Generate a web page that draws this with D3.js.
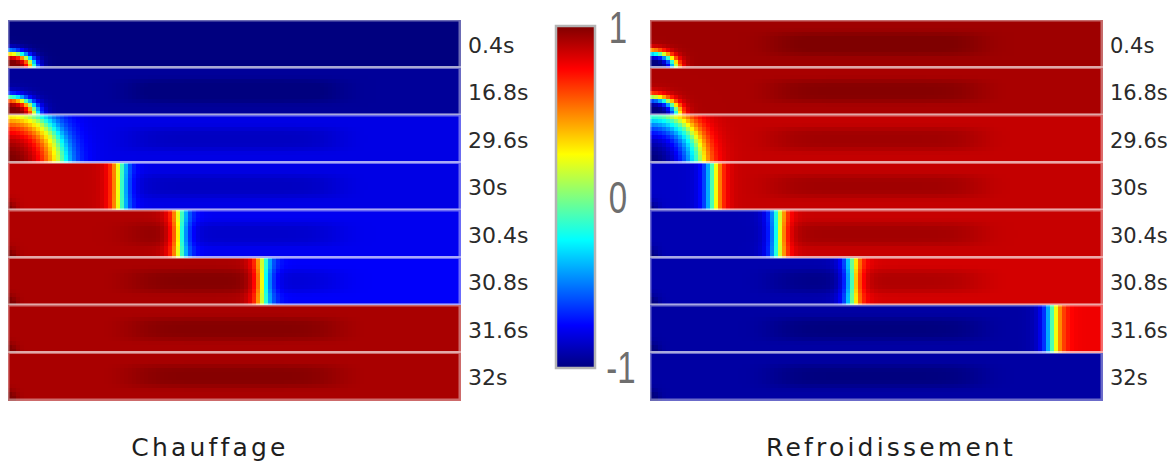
<!DOCTYPE html>
<html>
<head>
<meta charset="utf-8">
<script src="https://cdn.jsdelivr.net/npm/d3@7"></script>
<style>
  body { margin: 0; background: #fff; }
  svg { display: block; }
</style>
</head>
<body>
<div id="chart"></div>
<script>
'use strict';

// snapshot times, one strip each
const times = ['0.4s', '16.8s', '29.6s', '30s', '30.4s', '30.8s', '31.6s', '32s'];

// Chauffage: value behind the front / inside the hot spot, value ahead of it
const heatBehind = [1.05, 1.05, 1.05, 0.875, 0.905, 0.917, 0.917, 0.917];
const heatAhead  = [-1.0, -0.95, -0.8, -0.8, -0.78, -0.76, null, null];
const heatFront  = [null, null, null, 0.248, 0.38, 0.564, null, null];   // along strip, 0..1
const heatSpotX  = [0.055, 0.06, 0.112, null, null, null, null, null];   // spot radius along strip
const heatSpotY  = [0.32, 0.36, 1.05, null, null, null, null, null];     // spot radius across strip

// Refroidissement
const coolBehind = [-1.05, -1.05, -1.05, -0.86, -0.9, -0.91, -0.93, -0.93];
const coolAhead  = [0.94, 0.917, 0.865, 0.865, 0.86, 0.835, 0.78, null];
const coolFront  = [null, null, null, 0.14, 0.283, 0.447, 0.89, null];
const coolSpotX  = [0.055, 0.06, 0.105, null, null, null, null, null];
const coolSpotY  = [0.32, 0.36, 1.0, null, null, null, null, null];

const panelTitles = ['Chauffage', 'Refroidissement'];
const barTicks = [1, 0, -1];

const width = 1173, height = 465;
const stripW = 452, stripH = 47.5, stripTop = 20;
const cell = 4;
const nx = Math.round(stripW / cell), ny = 12;

const jet = d3.scaleLinear()
  .domain([-1, -0.75, -0.25, 0.25, 0.75, 1])
  .range(['#00007f', '#0000ff', '#00ffff', '#ffff00', '#ff0000', '#7f0000'])
  .clamp(true);

const svg = d3.select('#chart').append('svg')
  .attr('width', width)
  .attr('height', height);

const panels = [
  { title: panelTitles[0], x0: 8, behind: heatBehind, ahead: heatAhead, front: heatFront,
    spotX: heatSpotX, spotY: heatSpotY, labelSize: 22, titleX: 210 },
  { title: panelTitles[1], x0: 650, behind: coolBehind, ahead: coolAhead, front: coolFront,
    spotX: coolSpotX, spotY: coolSpotY, labelSize: 21, titleX: 891 }
];

const along = d3.scaleLinear().domain([0, 1]).range([0, stripW]);
const across = d3.scaleLinear().domain([0, 1]).range([0, stripH]);
const rowY = d3.scaleBand().domain(times).range([stripTop, stripTop + stripH * times.length]);

const sigmoid = t => 1 / (1 + Math.exp(-t));

function push (val, amount) {
  // darken towards the nearest extreme
  return Math.sign(val) * Math.min(1.05, Math.abs(val) + amount);
}

function fieldValue (p, i, u, v) {
  var val;
  if (p.front[i] != null) {
    val = p.behind[i] + (p.ahead[i] - p.behind[i]) * sigmoid((u - along(p.front[i])) / 5);
  } else if (p.spotX[i] != null) {
    var rx = along(p.spotX[i]), ry = across(p.spotY[i]);
    var s = Math.sqrt(rx * ry);
    var d = (Math.hypot(u / rx, v / ry) - 1) * s;
    var soft = s > 30 ? (d < 0 ? 0.24 * s : 0.17 * s) : 0.15 * s;
    val = p.behind[i] + (p.ahead[i] - p.behind[i]) * sigmoid(d / soft);
  } else {
    val = p.behind[i];
  }
  // darker elongated core in the middle of the strip
  var bx = (u - along(0.5)) / along(0.235), by = (v - stripH / 2) / (stripH * 0.24);
  val = push(val, 0.07 * Math.exp(-(Math.pow(bx, 6) + Math.pow(by, 4))));
  // dark spot in the lower left corner
  if (p.spotX[i] == null) {
    val = push(val, 0.13 * Math.exp(-(u * u + v * v) / 80));
  }
  return val;
}

panels.forEach(p => {
  var g = svg.append('g').attr('transform', `translate(${p.x0},0)`);

  var strips = g.selectAll('g.strip')
    .data(times)
    .join('g')
      .attr('class', 'strip')
      .attr('transform', t => `translate(0,${rowY(t)})`);

  strips.each(function (t, i) {
    var cells = [];
    for (var a = 0; a < nx; a++) {
      for (var b = 0; b < ny; b++) {
        var u = (a + 0.5) * stripW / nx;
        var v = stripH - (b + 0.5) * stripH / ny;
        cells.push({ a: a, b: b, val: fieldValue(p, i, u, v) });
      }
    }
    d3.select(this).selectAll('rect.cell')
      .data(cells)
      .join('rect')
        .attr('class', 'cell')
        .attr('x', c => along(c.a / nx))
        .attr('y', c => across(c.b / ny))
        .attr('width', stripW / nx + 0.6)
        .attr('height', stripH / ny + 0.6)
        .attr('shape-rendering', 'crispEdges')
        .attr('fill', c => jet(c.val));
  });

  strips.append('rect')
    .attr('width', stripW)
    .attr('height', stripH)
    .attr('fill', 'none')
    .attr('stroke', '#fff')
    .attr('stroke-opacity', 0.42)
    .attr('stroke-width', 3);

  strips.append('text')
    .attr('x', stripW + 8)
    .attr('y', stripH / 2 + 9)
    .attr('font-family', 'DejaVu Sans')
    .attr('font-size', p.labelSize)
    .attr('fill', '#2a2a2a')
    .text(t => t);

  svg.append('text')
    .attr('x', p.titleX)
    .attr('y', 456)
    .attr('text-anchor', 'middle')
    .attr('font-family', 'DejaVu Sans')
    .attr('font-size', 25)
    .attr('letter-spacing', 3.2)
    .attr('fill', '#1e1e1e')
    .text(p.title);
});

// colour bar
var barX = 556, barW = 39;
var barScale = d3.scaleLinear().domain([-1, 1]).range([368, 26]);

var grad = svg.append('defs').append('linearGradient')
  .attr('id', 'jetbar')
  .attr('x1', 0).attr('y1', 1).attr('x2', 0).attr('y2', 0);
grad.selectAll('stop')
  .data(d3.range(0, 1.0001, 0.025))
  .join('stop')
    .attr('offset', d => d)
    .attr('stop-color', d => jet(-1 + 2 * d));

svg.append('rect')
  .attr('x', barX)
  .attr('y', barScale(1))
  .attr('width', barW)
  .attr('height', barScale(-1) - barScale(1))
  .attr('fill', 'url(#jetbar)')
  .attr('stroke', '#b4b4b4')
  .attr('stroke-width', 2.5);

svg.selectAll('text.tick')
  .data(barTicks)
  .join('text')
    .attr('class', 'tick')
    .attr('transform', d => `translate(${d < 0 ? 621 : 618},${barScale(d) + (d === 1 ? 17 : d === 0 ? 16 : 15)}) scale(0.75,1)`)
    .attr('text-anchor', 'middle')
    .attr('font-family', 'Liberation Sans')
    .attr('font-size', 44)
    .attr('fill', '#6e6e6e')
    .text(d => d === -1 ? '-1' : d);
</script>
</body>
</html>
